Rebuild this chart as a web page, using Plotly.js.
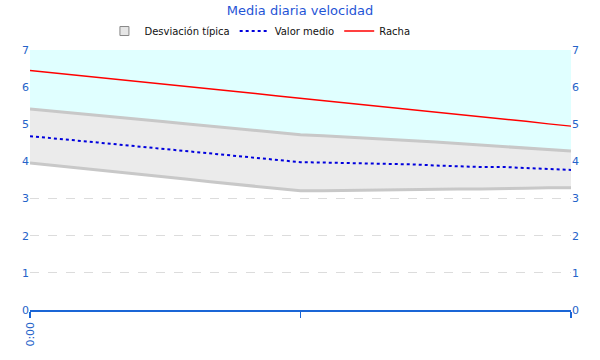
<!DOCTYPE html>
<html><head><meta charset="utf-8">
<script src="https://cdn.plot.ly/plotly-3.0.1.min.js"></script>
<style>body{margin:0;background:#fff}#c{width:600px;height:360px}</style>
</head><body><div id="c"></div>
<script>
const xIdx = [0,1,2,3,4,5,6,7,8,9,10,11,12,13,14,15,16,17,18,19,20,21,22,23,24];
const tickVals = [0, 12, 24];
const tickLabels = ["0:00", "", ""];
const stdUpper = [5.41,5.35,5.30,5.24,5.18,5.12,5.07,5.01,4.95,4.90,4.84,4.78,4.72,4.69,4.66,4.63,4.60,4.56,4.52,4.48,4.44,4.40,4.36,4.32,4.28];
const stdLower = [3.96,3.90,3.83,3.77,3.71,3.64,3.58,3.52,3.45,3.39,3.33,3.26,3.21,3.21,3.22,3.24,3.24,3.24,3.25,3.26,3.26,3.26,3.28,3.29,3.29];
const meanVals = [4.68,4.63,4.57,4.51,4.45,4.39,4.33,4.27,4.21,4.15,4.09,4.03,3.98,3.97,3.96,3.95,3.94,3.92,3.89,3.87,3.85,3.85,3.83,3.80,3.77];
const gustVals = [6.45,6.39,6.33,6.26,6.20,6.14,6.08,6.01,5.95,5.89,5.83,5.76,5.70,5.64,5.58,5.51,5.45,5.39,5.33,5.26,5.20,5.14,5.08,5.01,4.95];
const topVals = xIdx.map(() => 7);

const blue = '#2563c9';
const traces = [
  {x: xIdx, y: stdLower, mode: 'lines', line: {color: '#c8c8c8', width: 3}, showlegend: false, hoverinfo: 'skip'},
  {x: xIdx, y: stdUpper, mode: 'lines', fill: 'tonexty', fillcolor: '#ebebeb', line: {color: '#c8c8c8', width: 3}, showlegend: false, hoverinfo: 'skip'},
  {x: xIdx, y: topVals, mode: 'lines', fill: 'tonexty', fillcolor: '#e0ffff', line: {width: 0, color: 'rgba(0,0,0,0)'}, showlegend: false, hoverinfo: 'skip'},
  {x: [null], y: [null], mode: 'markers', name: 'Desviación típica',
   marker: {symbol: 'square', size: 9, color: '#e6e6e6', line: {color: '#888888', width: 1}}},
  {x: xIdx, y: meanVals, mode: 'lines', line: {color: '#0000dd', width: 2, dash: 'dot'}, name: 'Valor medio'},
  {x: xIdx, y: gustVals, mode: 'lines', line: {color: '#ff0000', width: 1.4}, name: 'Racha'},
  {x: xIdx, y: meanVals, yaxis: 'y2', mode: 'lines', line: {width: 0}, showlegend: false, hoverinfo: 'skip', opacity: 0}
];
const yBase = {
  range: [0, 7], dtick: 1, tick0: 0, showline: false, zeroline: false,
  gridcolor: '#dcdcdc', griddash: 'dash', gridwidth: 1,
  tickfont: {family: 'DejaVu Sans', size: 11, color: blue}, ticks: '', fixedrange: true
};
const layout = {
  width: 600, height: 360,
  margin: {l: 30, r: 29, t: 50, b: 50, autoexpand: false},
  paper_bgcolor: '#ffffff', plot_bgcolor: '#ffffff',
  title: {text: 'Media diaria velocidad', x: 0.5, xanchor: 'center', y: 0.985, yanchor: 'top',
          font: {family: 'DejaVu Sans', size: 13, color: '#1f55d6'}},
  legend: {orientation: 'h', traceorder: 'normal', x: 0.425, xanchor: 'center', y: 1.073, yanchor: 'middle',
           itemwidth: 30, font: {family: 'DejaVu Sans', size: 10, color: '#111'}, bgcolor: 'rgba(0,0,0,0)'},
  xaxis: {range: [0, 24], tickvals: tickVals, ticktext: tickLabels, tickangle: -90,
          showgrid: false, zeroline: false, showline: true, linecolor: '#1a66d6', linewidth: 1.5,
          ticks: 'outside', ticklen: 6, tickcolor: '#1a66d6', tickwidth: 1.5,
          tickfont: {family: 'DejaVu Sans', size: 11, color: blue}},
  yaxis: Object.assign({}, yBase, {side: 'left'}),
  yaxis2: Object.assign({}, yBase, {side: 'right', overlaying: 'y', showgrid: false})
};
Plotly.newPlot('c', traces, layout, {displayModeBar: false, staticPlot: true});
</script></body></html>
